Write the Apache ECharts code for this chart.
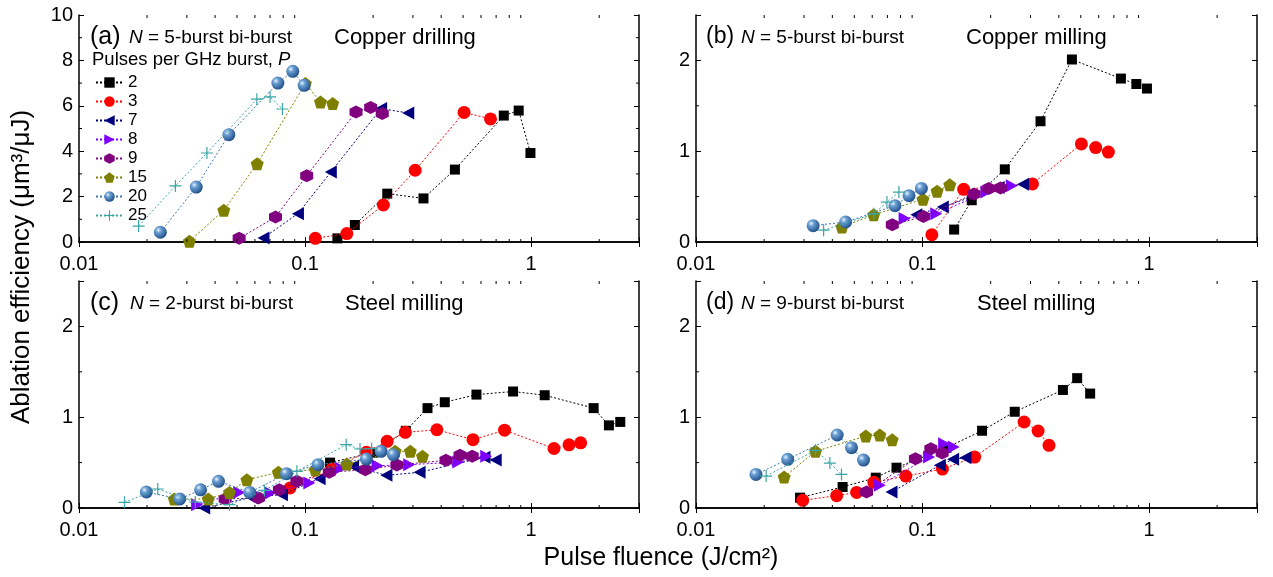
<!DOCTYPE html>
<html><head><meta charset="utf-8">
<script src="https://cdn.jsdelivr.net/npm/echarts@6/dist/echarts.min.js"></script>
<style>html,body{margin:0;padding:0;background:#fff}#c{width:1273px;height:577px}</style>
</head><body><div id="c"></div>
<script>
// ---------- data (fluence J/cm2, efficiency um3/uJ) ----------
const seriesNames = ['2','3','7','8','9','15','20','25'];
const xTickLabels = ['0.01','0.1','1'];
const xMinorTicks = [0.02,0.03,0.04,0.05,0.06,0.07,0.08,0.09,0.2,0.3,0.4,0.5,0.6,0.7,0.8,0.9,2];

// (a) copper drilling, N=5
const a2  = [[0.139,0.16],[0.166,0.75],[0.231,2.13],[0.334,1.92],[0.46,3.19],[0.757,5.57],[0.881,5.79],[0.993,3.92]];
const a3  = [[0.111,0.16],[0.153,0.37],[0.222,1.63],[0.307,3.16],[0.505,5.71],[0.661,5.42]];
const a7  = [[0.0655,0.18],[0.093,1.25],[0.130,3.08],[0.217,5.88],[0.286,5.68]];
const a8  = [];
const a9  = [[0.0511,0.16],[0.074,1.1],[0.1017,2.92],[0.168,5.73],[0.195,5.93],[0.2195,5.66]];
const a15 = [[0.0308,0.03],[0.0437,1.4],[0.0614,3.45],[0.1003,6.98],[0.117,6.17],[0.1325,6.1]];
const a20 = [[0.0229,0.43],[0.033,2.42],[0.046,4.73],[0.0758,7.0],[0.0882,7.52],[0.099,6.9]];
const a25 = [[0.01835,0.7],[0.0267,2.47],[0.0368,3.92],[0.0612,6.29],[0.070,6.39],[0.0794,5.86]];

// (b) copper milling, N=5
const b2  = [[0.138,0.137],[0.165,0.46],[0.231,0.80],[0.332,1.33],[0.457,2.01],[0.752,1.80],[0.88,1.74],[0.98,1.69]];
const b3  = [[0.110,0.08],[0.152,0.58],[0.306,0.64],[0.503,1.08],[0.582,1.04],[0.662,0.99]];
const b7  = [[0.094,0.30],[0.123,0.385],[0.217,0.60],[0.278,0.635]];
const b8  = [[0.0834,0.26],[0.115,0.31],[0.1915,0.55],[0.248,0.62]];
const b9  = [[0.0736,0.19],[0.101,0.28],[0.169,0.53],[0.196,0.59],[0.221,0.595]];
const b15 = [[0.0441,0.165],[0.0609,0.30],[0.1005,0.47],[0.116,0.56],[0.132,0.63]];
const b20 = [[0.0329,0.18],[0.0458,0.22],[0.0756,0.40],[0.0872,0.51],[0.0989,0.59]];
const b25 = [[0.0366,0.13],[0.061,0.31],[0.0697,0.44],[0.0787,0.55]];

// (c) steel milling, N=2
const c2  = [[0.129,0.50],[0.200,0.61],[0.279,0.85],[0.348,1.10],[0.415,1.165],[0.573,1.249],[0.832,1.283],[1.148,1.242],[1.89,1.10],[2.208,0.91],[2.479,0.948]];
const c3  = [[0.0858,0.22],[0.1316,0.43],[0.1867,0.613],[0.2307,0.734],[0.2776,0.833],[0.383,0.862],[0.553,0.752],[0.763,0.857],[1.262,0.655],[1.471,0.696],[1.656,0.718]];
const c7  = [[0.0358,0.0],[0.0579,0.117],[0.079,0.147],[0.116,0.323],[0.163,0.459],[0.229,0.36],[0.321,0.393],[0.622,0.558],[0.697,0.528]];
const c8  = [[0.0333,0.037],[0.0511,0.17],[0.0705,0.165],[0.1044,0.275],[0.1439,0.44],[0.2094,0.466],[0.2888,0.477],[0.476,0.506],[0.633,0.569]];
const c9  = [[0.0443,0.099],[0.0622,0.11],[0.077,0.2],[0.092,0.294],[0.128,0.393],[0.1848,0.422],[0.2548,0.473],[0.42,0.525],[0.4845,0.58],[0.549,0.569]];
const c15 = [[0.0264,0.099],[0.0373,0.099],[0.0463,0.172],[0.0553,0.312],[0.0762,0.393],[0.111,0.422],[0.153,0.484],[0.2503,0.624],[0.292,0.624],[0.3307,0.569]];
const c20 = [[0.01985,0.176],[0.0279,0.099],[0.0345,0.2],[0.0414,0.294],[0.0569,0.172],[0.0828,0.378],[0.1141,0.477],[0.1867,0.539],[0.217,0.624],[0.2459,0.587]];
const c25 = [[0.0159,0.062],[0.0223,0.209],[0.0327,0.066],[0.0463,0.037],[0.0661,0.194],[0.092,0.404],[0.152,0.697],[0.175,0.65],[0.197,0.653]];

// (d) steel milling, N=9
const d2  = [[0.0288,0.114],[0.0444,0.231],[0.0622,0.334],[0.0768,0.444],[0.1276,0.664],[0.1833,0.851],[0.2555,1.06],[0.417,1.30],[0.482,1.43],[0.55,1.26]];
const d3  = [[0.0296,0.084],[0.0418,0.136],[0.0512,0.172],[0.061,0.283],[0.0844,0.352],[0.1225,0.429],[0.170,0.561],[0.281,0.947],[0.324,0.848],[0.362,0.69]];
const d7  = [[0.073,0.176],[0.1193,0.47],[0.1366,0.536],[0.1548,0.554]];
const d8  = [[0.0648,0.25],[0.107,0.561],[0.1246,0.708],[0.1374,0.672]];
const d9  = [[0.0566,0.176],[0.0931,0.543],[0.1089,0.653],[0.1222,0.606]];
const d15 = [[0.0245,0.341],[0.0337,0.624],[0.0562,0.793],[0.0648,0.804],[0.0735,0.752]];
const d20 = [[0.0184,0.37],[0.0254,0.536],[0.042,0.804],[0.0486,0.664],[0.0549,0.528]];
const d25 = [[0.0204,0.352],[0.0337,0.635],[0.039,0.495],[0.0439,0.37]];

const panelData = [
  [a2,a3,a7,a8,a9,a15,a20,a25],
  [b2,b3,b7,b8,b9,b15,b20,b25],
  [c2,c3,c7,c8,c9,c15,c20,c25],
  [d2,d3,d7,d8,d9,d15,d20,d25]
];

// ---------- styling ----------
const FONT = '"Liberation Sans", Arial, sans-serif';
const colors = {'2':'#000000','3':'#ff0000','7':'#00007f','8':'#8000ff','9':'#800080','15':'#808000','20':'#3a78b5','25':'#3aa6a6'};
const sphere = {type:'radial',x:0.35,y:0.33,r:0.72,colorStops:[{offset:0,color:'#eaf3fc'},{offset:0.3,color:'#6a9fd3'},{offset:1,color:'#1d4b85'}]};
const symbols = {
  '2':['rect',10],
  '3':['circle',13],
  '7':['path://M0,50 L100,0 L100,100 Z',[12,13]],
  '8':['path://M100,50 L0,0 L0,100 Z',[12,13]],
  '9':['path://M50,0 L93.3,25 L93.3,75 L50,100 L6.7,75 L6.7,25 Z',13],
  '15':['path://M50,0 L97.6,34.5 L79.4,90.5 L20.6,90.5 L2.4,34.5 Z',13],
  '20':['circle',13],
  '25':['path://M45,0 H55 V45 H100 V55 H55 V100 H45 V55 H0 V45 H45 Z',12]
};

const grids = [
  {left:79, top:15, width:560, height:227},
  {left:696, top:15, width:561, height:227},
  {left:79, top:281, width:560, height:227},
  {left:696, top:281, width:561, height:227}
];
const yMax = [10,2.5,2.5,2.5];
const yInt = [2,1,1,1];
const yMinor = [[1,3,5,7,9],[0.5,1.5],[0.5,1.5],[0.5,1.5]];

const axisLine = {show:true, lineStyle:{color:'#000', width:1.5}};
const xAxes = [], yAxes = [], series = [];
grids.forEach((g,i) => {
  xAxes.push({type:'log', logBase:10, gridIndex:i, min:0.01, max:3, position:'bottom',
    axisLine, axisTick:{inside:true, length:5, lineStyle:{color:'#000', width:1}},
    splitLine:{show:false},
    axisLabel:{fontFamily:FONT, fontSize:20, color:'#000', margin:12,
      formatter: v => { const l = Math.log10(v); return Math.abs(l-Math.round(l))<1e-6 && l<=0 ? xTickLabels[Math.round(l)+2] : ''; }}});
  yAxes.push({type:'value', gridIndex:i, min:0, max:yMax[i], interval:yInt[i],
    axisLine, axisTick:{inside:true, length:5, lineStyle:{color:'#000', width:1}},
    splitLine:{show:false},
    axisLabel:{fontFamily:FONT, fontSize:20, color:'#000', margin:6,
      formatter: v => (Number.isInteger(v) ? String(v) : '')}});
});
grids.forEach((g,i) => {
  xAxes.push({type:'log', logBase:10, gridIndex:i, min:0.01, max:3, position:'top',
    axisLine, axisTick:{inside:true, length:5, lineStyle:{color:'#000', width:1}},
    axisLabel:{show:false}, splitLine:{show:false}});
  yAxes.push({type:'value', gridIndex:i, min:0, max:yMax[i], interval:yInt[i], position:'right',
    axisLine, axisTick:{inside:true, length:5, lineStyle:{color:'#000', width:1}},
    axisLabel:{show:false}, splitLine:{show:false}});
});

panelData.forEach((arrs, p) => {
  arrs.forEach((d, k) => {
    const name = seriesNames[k];
    const sym = symbols[name];
    series.push({
      type:'line', name, xAxisIndex:p, yAxisIndex:p, data:d,
      symbol:sym[0], symbolSize:sym[1], showSymbol:true, clip:false,
      lineStyle:{color:colors[name], width:1, type:[2,2]},
      itemStyle:{color: name==='20' ? sphere : colors[name], opacity:1},
      emphasis:{disabled:true}, animation:false, z:2+k
    });
  });
  // minor ticks (axis decoration) drawn through the axis scales
  const items = xMinorTicks.map(v=>({k:'x',v})).concat(yMinor[p].map(v=>({k:'y',v})));
  const ym = yMax[p];
  series.push({
    type:'custom', xAxisIndex:p, yAxisIndex:p, silent:true, animation:false, z:10,
    data: items.map(it => it.k==='x' ? [it.v, 0] : [0.01, it.v]),
    renderItem: (params, api) => {
      const it = items[params.dataIndex];
      const ls = {stroke:'#000', lineWidth:1};
      if (it.k==='x') {
        const b = api.coord([it.v, 0]), t = api.coord([it.v, ym]);
        return {type:'group', children:[
          {type:'line', shape:{x1:b[0],y1:b[1],x2:b[0],y2:b[1]-3}, style:ls},
          {type:'line', shape:{x1:t[0],y1:t[1],x2:t[0],y2:t[1]+3}, style:ls}]};
      } else {
        const l = api.coord([0.01, it.v]), r = api.coord([3, it.v]);
        return {type:'group', children:[
          {type:'line', shape:{x1:l[0],y1:l[1],x2:l[0]+3,y2:l[1]}, style:ls},
          {type:'line', shape:{x1:r[0],y1:r[1],x2:r[0]-3,y2:r[1]}, style:ls}]};
      }
    }
  });
});

function txt(x, y, text, size, extra) {
  return Object.assign({type:'text', x, y, z:50, style:{text, fill:'#000', font: size+'px '+FONT, verticalAlign:'middle'}}, extra||{});
}
function ntxt(x, y, n) {
  return {type:'text', x, y, z:50, style:{text:'{i|N} = '+n+'-burst bi-burst', verticalAlign:'middle', fill:'#000',
    font:'19px '+FONT, rich:{i:{fontStyle:'italic', fontFamily:FONT, fontSize:19, fill:'#000'}}}};
}

const graphic = [
  txt(90, 37, '(a)', 25), ntxt(129, 38, 5), txt(334, 38, 'Copper drilling', 22),
  {type:'text', x:92, y:60, z:50, style:{text:'Pulses per GHz burst, {i|P}', verticalAlign:'middle', fill:'#000', font:'18.5px '+FONT,
    rich:{i:{fontStyle:'italic', fontFamily:FONT, fontSize:18.5, fill:'#000'}}}},
  txt(706, 37, '(b)', 23), ntxt(741, 38, 5), txt(966, 38, 'Copper milling', 22),
  txt(90, 303, '(c)', 25), ntxt(130, 304, 2), txt(345, 304, 'Steel milling', 22),
  txt(706, 303, '(d)', 23), ntxt(741, 304, 9), txt(977, 304, 'Steel milling', 22),
  {type:'text', x:22, y:267, rotation:Math.PI/2, z:50, style:{text:'Ablation efficiency (μm³/μJ)', fill:'#000', font:'26px '+FONT, align:'center', verticalAlign:'middle'}},
  {type:'text', x:661, y:558, z:50, style:{text:'Pulse fluence (J/cm²)', fill:'#000', font:'25px '+FONT, align:'center', verticalAlign:'middle'}}
];

const chart = echarts.init(document.getElementById('c'), null, {renderer:'canvas'});
chart.setOption({
  animation:false,
  backgroundColor:'#fff',
  grid: grids,
  xAxis: xAxes,
  yAxis: yAxes,
  legend: {data: seriesNames, orient:'vertical', left:90, top:69, itemWidth:27, itemHeight:13, itemGap:2,
    textStyle:{fontFamily:FONT, fontSize:17, color:'#000', lineHeight:16}, selectedMode:false},
  graphic,
  series
});
</script></body></html>
